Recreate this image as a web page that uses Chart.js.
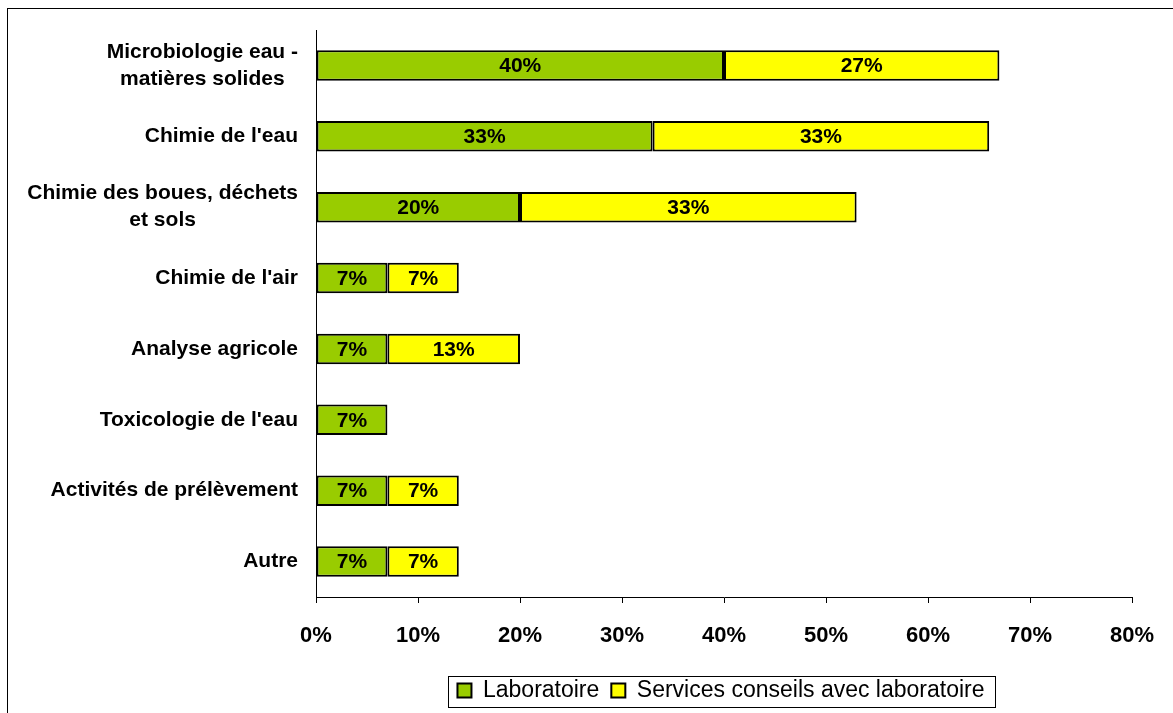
<!DOCTYPE html>
<html>
<head>
<meta charset="utf-8">
<script src="https://cdn.jsdelivr.net/npm/chart.js@4"></script>
<style>
    html, body { margin: 0; padding: 0; background: #fff; }
    #wrap { width: 1173px; height: 713px; }
</style>
</head>
<body>
<div id="wrap"><canvas id="chart" width="1173" height="713"></canvas></div>
<script>
const categories = [
    ['Microbiologie eau -', 'matières solides'],
    "Chimie de l'eau",
    ['Chimie des boues, déchets', 'et sols'],
    "Chimie de l'air",
    'Analyse agricole',
    "Toxicologie de l'eau",
    'Activités de prélèvement',
    'Autre'
];
const laboratoire = [40, 33, 20, 7, 7, 7, 7, 7];
const servicesConseils = [27, 33, 33, 7, 13, null, 7, 7];
const xTicks = [0, 10, 20, 30, 40, 50, 60, 70, 80];

const FONT = 'Arial, "Liberation Sans", sans-serif';
const LABEL_RIGHT = 298;
const LEGEND_CENTER = 721;
const LEGEND_FONT = 23;
const LEGEND_PAD = 12;

// outer frame of the chart object
const framePlugin = {
    id: 'frame',
    beforeDraw(chart) {
        const ctx = chart.ctx;
        ctx.save();
        ctx.fillStyle = '#fff';
        ctx.fillRect(0, 0, chart.width, chart.height);
        ctx.strokeStyle = '#000';
        ctx.lineWidth = 1;
        ctx.strokeRect(7.5, 8.5, chart.width + 10, chart.height + 10);
        ctx.restore();
    }
};

// category labels: block right-aligned, lines centred within the block
const categoryLabels = {
    id: 'categoryLabels',
    afterDraw(chart) {
        const ctx = chart.ctx;
        const y = chart.scales.y;
        ctx.save();
        ctx.font = 'bold 21px ' + FONT;
        ctx.fillStyle = '#000';
        ctx.textAlign = 'center';
        ctx.textBaseline = 'middle';
        const lineH = 27;
        chart.data.labels.forEach((lab, i) => {
            const lines = Array.isArray(lab) ? lab : [lab];
            const w = Math.max(...lines.map(l => ctx.measureText(l).width));
            const cx = LABEL_RIGHT - w / 2;
            const cy = y.getPixelForValue(i);
            const top = cy - (lines.length - 1) * lineH / 2;
            lines.forEach((l, k) => ctx.fillText(l, cx, top + k * lineH));
        });
        ctx.restore();
    }
};

// value labels inside each bar segment
const valueLabels = {
    id: 'valueLabels',
    afterDatasetsDraw(chart) {
        const ctx = chart.ctx;
        ctx.save();
        ctx.font = 'bold 21px ' + FONT;
        ctx.fillStyle = '#000';
        ctx.textAlign = 'center';
        ctx.textBaseline = 'middle';
        chart.data.datasets.forEach((ds, i) => {
            const meta = chart.getDatasetMeta(i);
            meta.data.forEach((bar, j) => {
                const v = ds.data[j];
                if (v == null) return;
                ctx.fillText(v + '%', (bar.x + bar.base) / 2, bar.y + 1);
            });
        });
        ctx.restore();
    }
};

// move the legend under the plot and frame it
const legendBox = {
    id: 'legendBox',
    afterLayout(chart) {
        const lg = chart.legend;
        if (!lg) return;
        const shift = LEGEND_CENTER - (lg.left + lg.right) / 2;
        lg.left += shift;
        lg.right += shift;
        if (lg.adjustHitBoxes) lg.adjustHitBoxes();
    },
    afterDraw(chart) {
        const lg = chart.legend;
        if (!lg || !lg.lineWidths) return;
        const rowW = lg.lineWidths[0];
        const start = (lg.left + LEGEND_PAD + lg.right - rowW) / 2;
        const end = start + rowW - LEGEND_PAD;
        const cy = lg.top + LEGEND_PAD + LEGEND_FONT / 2;
        const ctx = chart.ctx;
        ctx.save();
        ctx.strokeStyle = '#000';
        ctx.lineWidth = 1;
        const x0 = Math.round(start - 9) + 0.5;
        const x1 = Math.round(end + 10) + 0.5;
        const y0 = Math.round(cy - 15) + 0.5;
        const y1 = Math.round(cy + 16) + 0.5;
        ctx.strokeRect(x0, y0, x1 - x0, y1 - y0);
        ctx.restore();
    }
};

new Chart(document.getElementById('chart'), {
    type: 'bar',
    data: {
        labels: categories,
        datasets: [{
            label: 'Laboratoire',
            data: laboratoire,
            backgroundColor: '#99CC00',
            borderColor: '#000',
            borderWidth: 2,
            borderSkipped: false
        }, {
            label: 'Services conseils avec laboratoire',
            data: servicesConseils,
            backgroundColor: '#FFFF00',
            borderColor: '#000',
            borderWidth: 2,
            borderSkipped: false
        }]
    },
    options: {
        indexAxis: 'y',
        responsive: false,
        animation: false,
        datasets: { bar: { barPercentage: 0.43, categoryPercentage: 1 } },
        layout: { padding: { left: 10, right: 41, top: 30, bottom: 1 } },
        scales: {
            x: {
                stacked: true,
                min: 0,
                max: 80,
                afterBuildTicks(scale) {
                    scale.ticks = xTicks.map(v => ({ value: v }));
                },
                afterFit(scale) {
                    scale.height = 70;
                    scale.paddingRight = 0;
                },
                grid: {
                    drawOnChartArea: false,
                    drawTicks: true,
                    tickLength: 6,
                    color: '#000'
                },
                border: { color: '#000', width: 1 },
                ticks: {
                    color: '#000',
                    font: { family: FONT, size: 22, weight: 'bold' },
                    padding: 20,
                    maxRotation: 0,
                    autoSkip: false,
                    callback: v => v + '%'
                }
            },
            y: {
                stacked: true,
                afterFit(scale) { scale.width = 306; },
                grid: { drawOnChartArea: false, drawTicks: false },
                border: { color: '#000', width: 1 },
                ticks: { display: false }
            }
        },
        plugins: {
            legend: {
                position: 'bottom',
                labels: {
                    color: '#000',
                    font: { family: FONT, size: LEGEND_FONT },
                    boxWidth: 14,
                    boxHeight: 14,
                    padding: LEGEND_PAD,
                    generateLabels(chart) {
                        return chart.data.datasets.map((ds, i) => ({
                            text: ds.label,
                            fillStyle: ds.backgroundColor,
                            strokeStyle: '#000',
                            lineWidth: 2,
                            datasetIndex: i
                        }));
                    }
                }
            },
            tooltip: { enabled: false }
        }
    },
    plugins: [framePlugin, categoryLabels, valueLabels, legendBox]
});
</script>
</body>
</html>
